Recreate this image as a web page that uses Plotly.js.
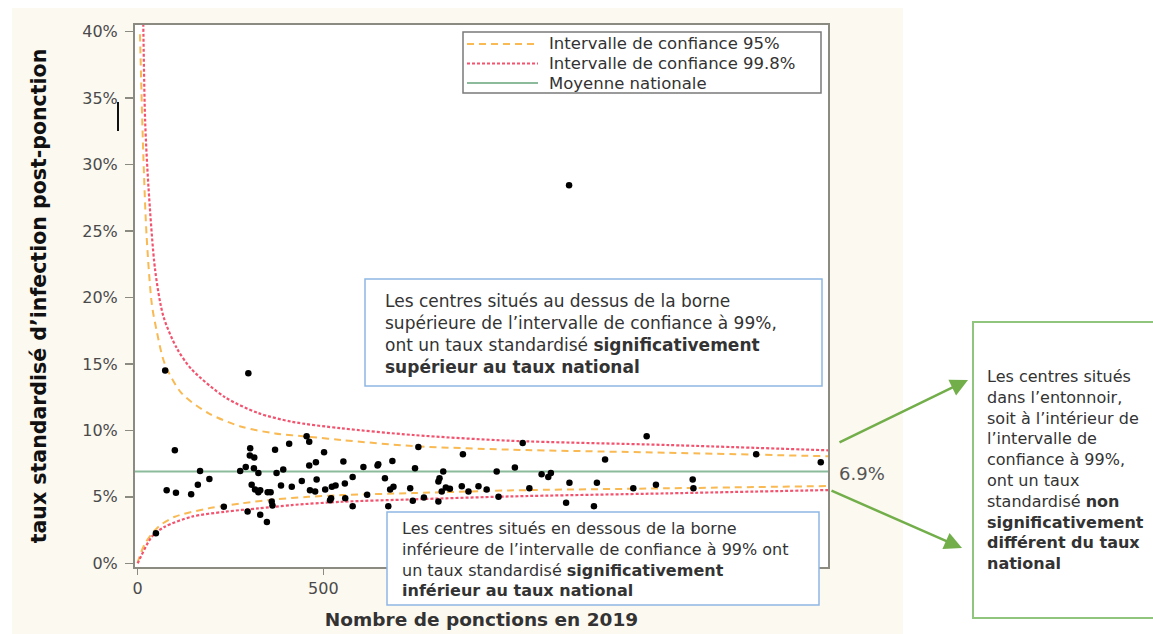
<!DOCTYPE html>
<html>
<head>
<meta charset="utf-8">
<script src="https://cdn.plot.ly/plotly-3.0.1.min.js"></script>
<style>
html,body{margin:0;padding:0;background:#ffffff;}
#chart{width:1153px;height:634px;}
</style>
</head>
<body>
<div id="chart"></div>
<script>
// ---- Data ----
// Centres: number of punctions in 2019 and standardised infection rate (%)
const nPonctions = [74, 298, 100, 78, 103, 144, 162, 168, 193, 49, 232, 276, 291, 303, 302, 314, 313, 325, 307, 316,
  325, 330, 296, 330, 348, 350, 358, 361, 363, 370, 374, 392, 386, 415, 408, 442, 455, 462, 462, 480,
  502, 464, 478, 482, 505, 518, 521, 523, 533, 554, 558, 559, 579, 579, 608, 618, 646, 648, 666, 675,
  680, 689, 686, 734, 741, 747, 756, 771, 810, 810, 813, 823, 819, 830, 841, 873, 876, 891, 918, 940,
  967, 972, 1016, 1037, 1055, 1088, 1106, 1113, 1154, 1163, 1229, 1237, 1259, 1335, 1371, 1396, 1495, 1497, 1666, 1840,
  1162];
const tauxStandardise = [14.5, 14.3, 8.5, 5.5, 5.3, 5.2, 5.9, 6.95, 6.35, 2.25, 4.25, 6.95, 7.25, 8.65, 8.1, 7.95, 7.15, 6.8, 5.9, 5.55,
  5.35, 5.5, 3.9, 3.65, 3.1, 5.35, 5.35, 4.65, 4.35, 8.55, 6.8, 7.05, 5.85, 5.75, 9.0, 6.2, 9.55, 9.15, 7.35, 7.6,
  8.35, 5.5, 5.4, 6.3, 5.55, 4.75, 4.9, 5.75, 5.85, 7.65, 6.0, 4.9, 4.3, 6.5, 7.25, 5.15, 7.35, 7.45, 6.4, 4.3,
  5.55, 5.75, 7.7, 5.65, 4.7, 7.15, 8.75, 4.95, 4.65, 6.15, 6.4, 6.9, 5.4, 5.7, 5.6, 5.8, 8.2, 5.4, 5.8, 5.55,
  6.9, 5.0, 7.2, 9.05, 5.65, 6.7, 6.5, 6.8, 4.55, 6.05, 4.3, 6.05, 7.8, 5.65, 9.55, 5.9, 6.3, 5.65, 8.2, 7.6,
  28.45];

// Funnel limits (n, %)
const ic95HautN    = [6, 15, 24, 38, 51, 73, 118, 190, 280, 370, 460, 550, 742, 1003, 1425, 1860];
const ic95HautTaux = [39.8, 30.8, 24.6, 19.5, 17.5, 15.0, 12.8, 11.3, 10.27, 9.77, 9.52, 9.27, 8.82, 8.55, 8.32, 8.05];
const ic95BasN     = [0, 2, 20, 56, 100, 190, 280, 370, 460, 550, 742, 1000, 1425, 1860];
const ic95BasTaux  = [0, 0.25, 1.5, 2.75, 3.5, 4.13, 4.51, 4.81, 5.0, 5.13, 5.28, 5.48, 5.64, 5.81];
const ic998HautN    = [15, 20, 29, 47, 69, 105, 145, 235, 325, 415, 550, 742, 1003, 1425, 1860];
const ic998HautTaux = [40.6, 33.3, 28.3, 22.05, 18.6, 16.2, 14.6, 12.5, 11.3, 10.65, 10.15, 9.65, 9.22, 8.9, 8.5];
const ic998BasN     = [0, 2, 38, 73, 145, 235, 325, 415, 550, 742, 1003, 1425, 1860];
const ic998BasTaux  = [0, 0.12, 2.0, 2.75, 3.5, 3.88, 4.13, 4.38, 4.63, 4.81, 5.03, 5.26, 5.51];

const moyenneNationale = 6.9;
const xRange = [-7.3, 1859.5];
const yRange = [-0.28, 40.5];
const yTickVals = [0, 5, 10, 15, 20, 25, 30, 35, 40];
const yTickText = ['0%', '5%', '10%', '15%', '20%', '25%', '30%', '35%', '40%'];
const xTickVals = [0, 500];
const xTickText = ['0', '500'];
const legendLabels = ['Intervalle de confiance 95%', 'Intervalle de confiance 99.8%', 'Moyenne nationale'];

// ---- Layout helpers (pixel -> paper) ----
const L = 135, R = 828, T = 25, B = 567;
const PW = R - L, PH = B - T;
const px = x => (x - L) / PW;
const py = y => (B - y) / PH;

const FONT = 'DejaVu Sans, Arial, sans-serif';
const ORANGE = '#f9b953';
const RED = '#f2546f';
const GREEN = '#8cbb9c';
const AXIS = '#8c8b82';
const DASH95 = '7px,5px';
const DASH998 = '3px,2px';

const traces = [
  {x: ic95HautN, y: ic95HautTaux, mode: 'lines', name: legendLabels[0], showlegend: false,
   line: {color: ORANGE, width: 2, dash: DASH95, shape: 'spline', smoothing: 0.8}},
  {x: ic998HautN, y: ic998HautTaux, mode: 'lines', name: legendLabels[1], showlegend: false,
   line: {color: RED, width: 2.2, dash: DASH998, shape: 'spline', smoothing: 0.8}},
  {x: xRange, y: [moyenneNationale, moyenneNationale], mode: 'lines', name: legendLabels[2], showlegend: false,
   line: {color: GREEN, width: 2}},
  {x: ic95BasN, y: ic95BasTaux, mode: 'lines', showlegend: false, name: legendLabels[0],
   line: {color: ORANGE, width: 2, dash: DASH95, shape: 'spline', smoothing: 0.8}},
  {x: ic998BasN, y: ic998BasTaux, mode: 'lines', showlegend: false, name: legendLabels[1],
   line: {color: RED, width: 2.2, dash: DASH998, shape: 'spline', smoothing: 0.8}},
  {x: nPonctions, y: tauxStandardise, mode: 'markers', showlegend: false, name: 'Centres',
   marker: {color: '#000000', size: 6.5}}
];

const boxText = '#333333';
const annotations = [
  {xref: 'paper', yref: 'paper', x: px(383), y: py(333.5), xanchor: 'left', yanchor: 'middle', align: 'left',
   showarrow: false, font: {family: FONT, size: 17, color: boxText},
   text: 'Les centres situés au dessus de la borne<br>supérieure de l’intervalle de confiance à 99%,<br>ont un taux standardisé <b>significativement</b><br><b>supérieur au taux national</b>'},
  {xref: 'paper', yref: 'paper', x: px(400), y: py(559.5), xanchor: 'left', yanchor: 'middle', align: 'left',
   showarrow: false, font: {family: FONT, size: 16, color: boxText},
   text: 'Les centres situés en dessous de la borne<br>inférieure de l’intervalle de confiance à 99% ont<br>un taux standardisé <b>significativement</b><br><b>inférieur au taux national</b>'},
  {xref: 'paper', yref: 'paper', x: px(985), y: py(470), xanchor: 'left', yanchor: 'middle', align: 'left',
   showarrow: false, font: {family: FONT, size: 16, color: boxText},
   text: 'Les centres situés<br>dans l’entonnoir,<br>soit à l’intérieur de<br>l’intervalle de<br>confiance à 99%,<br>ont un taux<br>standardisé <b>non</b><br><b>significativement</b><br><b>différent du taux</b><br><b>national</b>'},
  {xref: 'paper', yref: 'paper', x: px(837), y: py(473), xanchor: 'left', yanchor: 'middle',
   showarrow: false, font: {family: FONT, size: 18, color: '#555555'}, text: moyenneNationale + '%'},
  {xref: 'paper', yref: 'paper', x: px(968), y: py(380), ax: -130, ay: 63, text: '', showarrow: true,
   arrowhead: 2, arrowsize: 1.4, arrowwidth: 2.5, arrowcolor: '#72ae4a', standoff: 0},
  {xref: 'paper', yref: 'paper', x: px(962), y: py(548), ax: -132, ay: -58, text: '', showarrow: true,
   arrowhead: 2, arrowsize: 1.4, arrowwidth: 2.5, arrowcolor: '#72ae4a', standoff: 0}
];

// legend (drawn as box + line samples + labels)
const legendRows = [44, 63.5, 83];
const legendStyles = [
  {color: ORANGE, width: 2, dash: DASH95},
  {color: RED, width: 2.2, dash: DASH998},
  {color: GREEN, width: 2, dash: 'solid'}
];
legendLabels.forEach((lab, i) => {
  annotations.push({xref: 'paper', yref: 'paper', x: px(547), y: py(legendRows[i]), xanchor: 'left', yanchor: 'middle',
    showarrow: false, font: {family: FONT, size: 16.5, color: '#333333'}, text: lab});
});

const shapes = [
  // white surroundings of the cream figure area
  {type: 'rect', xref: 'paper', yref: 'paper', layer: 'below', x0: px(-50), x1: px(12), y0: py(700), y1: py(-50),
   fillcolor: '#ffffff', line: {width: 0}},
  {type: 'rect', xref: 'paper', yref: 'paper', layer: 'below', x0: px(-50), x1: px(1200), y0: py(8), y1: py(-50),
   fillcolor: '#ffffff', line: {width: 0}},
  {type: 'rect', xref: 'paper', yref: 'paper', layer: 'below', x0: px(903), x1: px(1200), y0: py(700), y1: py(-50),
   fillcolor: '#ffffff', line: {width: 0}},
  // small black mark near the 35% tick
  {type: 'line', xref: 'paper', yref: 'paper', x0: px(118), x1: px(118), y0: py(131), y1: py(102),
   line: {color: '#111111', width: 2}},
  // legend box
  {type: 'rect', xref: 'paper', yref: 'paper', layer: 'above', x0: px(463), x1: px(821), y0: py(93), y1: py(32),
   fillcolor: '#ffffff', line: {color: '#7a7a7a', width: 1.5}},
  // annotation boxes
  {type: 'rect', xref: 'paper', yref: 'paper', layer: 'above', x0: px(365), x1: px(822), y0: py(386), y1: py(279),
   fillcolor: '#ffffff', line: {color: '#8fb6e3', width: 1.5}},
  {type: 'rect', xref: 'paper', yref: 'paper', layer: 'above', x0: px(387), x1: px(819), y0: py(605), y1: py(512),
   fillcolor: '#ffffff', line: {color: '#8fb6e3', width: 1.5}},
  {type: 'rect', xref: 'paper', yref: 'paper', layer: 'above', x0: px(973), x1: px(1165), y0: py(618), y1: py(322),
   fillcolor: '#ffffff', line: {color: '#8fc57d', width: 2}}
];
legendStyles.forEach((st, i) => {
  shapes.push({type: 'line', xref: 'paper', yref: 'paper', layer: 'above', x0: px(467), x1: px(538),
    y0: py(legendRows[i]), y1: py(legendRows[i]), line: st});
});

const layout = {
  width: 1153, height: 634,
  margin: {l: L, r: 1153 - R, t: T, b: 634 - B, pad: 0},
  paper_bgcolor: '#fcf9f1',
  plot_bgcolor: '#ffffff',
  showlegend: false,
  xaxis: {range: xRange, tickmode: 'array', tickvals: xTickVals, ticktext: xTickText, ticks: 'outside', ticklen: 6, tickwidth: 1.5, tickcolor: AXIS,
          showline: true, linecolor: AXIS, linewidth: 2, mirror: true, showgrid: false, zeroline: false,
          tickfont: {family: FONT, size: 16, color: '#4a4a4a'},
          title: {text: 'Nombre de ponctions en 2019', standoff: 16,
                  font: {family: FONT, size: 18.5, color: '#333333', weight: 700}}},
  yaxis: {range: yRange, tickmode: 'array', tickvals: yTickVals, ticktext: yTickText, ticks: 'outside', ticklen: 8, tickwidth: 1.5, tickcolor: AXIS,
          ticklabelstandoff: 4,
          showline: true, linecolor: AXIS, linewidth: 2, mirror: true, showgrid: false, zeroline: false,
          tickfont: {family: FONT, size: 16, color: '#4a4a4a'},
          title: {text: 'taux standardisé d’infection post-ponction', standoff: 30,
                  font: {family: FONT, size: 20.5, color: '#111111', weight: 700}}},
  shapes: shapes,
  annotations: annotations,
  hovermode: false
};

Plotly.newPlot('chart', traces, layout, {displayModeBar: false, staticPlot: true});
</script>
</body>
</html>
